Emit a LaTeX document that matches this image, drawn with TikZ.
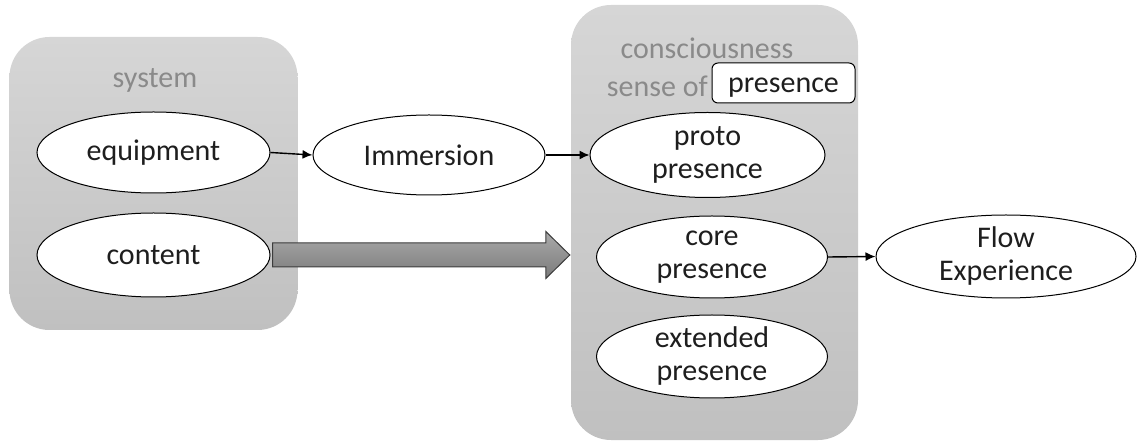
\documentclass[tikz,border=0pt]{standalone}
\usepackage{fontspec}
\setmainfont{Carlito}
\usetikzlibrary{shapes.geometric,arrows.meta,calc}
\definecolor{grouptop}{RGB}{214,214,214}
\definecolor{groupbot}{RGB}{192,192,192}
\definecolor{titlegray}{RGB}{138,138,138}
\definecolor{arrtop}{RGB}{170,170,170}
\definecolor{arrbot}{RGB}{122,122,122}
\definecolor{arrline}{RGB}{60,60,60}
\definecolor{textblack}{RGB}{30,30,30}
\tikzset{
  groupbox/.style={rectangle, rounded corners=40pt, top color=grouptop, bottom color=groupbot, draw=none, inner sep=0pt},
  grouptitle/.style={text=titlegray, inner sep=0pt, font=\fontsize{30}{33}\selectfont},
  oval/.style={ellipse, draw=black, line width=1pt, fill=white, inner sep=0pt, align=center, text=textblack, font=\fontsize{30}{33}\selectfont},
  conn/.style={line width=1.4pt, -{Latex[length=10pt,width=9pt]}},
  bigarrow/.style={draw=arrline, line width=1pt, top color=arrtop, bottom color=arrbot, line join=miter},
  tagbox/.style={rectangle, rounded corners=6pt, draw=black, line width=1pt, fill=white, inner sep=0pt, text=textblack, text height=20pt, text depth=0pt, font=\fontsize{30}{33}\selectfont}
}
\begin{document}
\begin{tikzpicture}[x=1pt,y=-1pt]
\useasboundingbox (0,0) rectangle (1138,443);
% group boxes
\node[groupbox, minimum width=288pt, minimum height=293pt] (sys) at (153.5,183.5) {};
\node[groupbox, minimum width=287pt, minimum height=435pt] (cons) at (714.5,222.5) {};
% titles
\node[grouptitle] (systitle) at (155,80) {system};
\node[grouptitle] (constitle) at (707,48) {consciousness};
\node[grouptitle, anchor=east] (senseof) at (708,86) {sense of};
\node[tagbox, minimum width=143pt, minimum height=40pt] (pres) at (783.5,83) {presence};
% ellipses
\node[oval, minimum width=233pt, minimum height=81pt] (equip) at (153.5,152.5) {equipment};
\node[oval, minimum width=233pt, minimum height=84pt] (content) at (153.5,255) {content};
\node[oval, minimum width=232pt, minimum height=80pt] (imm) at (429,155) {Immersion};
\node[oval, minimum width=235pt, minimum height=85pt] (proto) at (707.5,155) {proto\\presence};
\node[oval, minimum width=231pt, minimum height=82pt] (core) at (712,257) {core\\presence};
\node[oval, minimum width=231pt, minimum height=83pt] (ext) at (712,356.5) {extended\\presence};
\node[oval, minimum width=260pt, minimum height=83pt] (flow) at (1006,256.5) {Flow\\Experience};
% connectors
\draw[conn] (equip.east) -- (imm.west);
\draw[conn] (imm.east) -- (proto.west);
\draw[conn] (core.east) -- (flow.west);
% big arrow from content to consciousness box
\path[bigarrow] let \p1=(content.east), \p2=(cons.west) in
  (\x1+2pt,\y1+12pt) -- (\x2-25pt,\y1+12pt) -- (\x2-25pt,\y1+23.5pt) -- (\x2-1pt,\y1) --
  (\x2-25pt,\y1-23.5pt) -- (\x2-25pt,\y1-12pt) -- (\x1+2pt,\y1-12pt) -- cycle;
\end{tikzpicture}
\end{document}
